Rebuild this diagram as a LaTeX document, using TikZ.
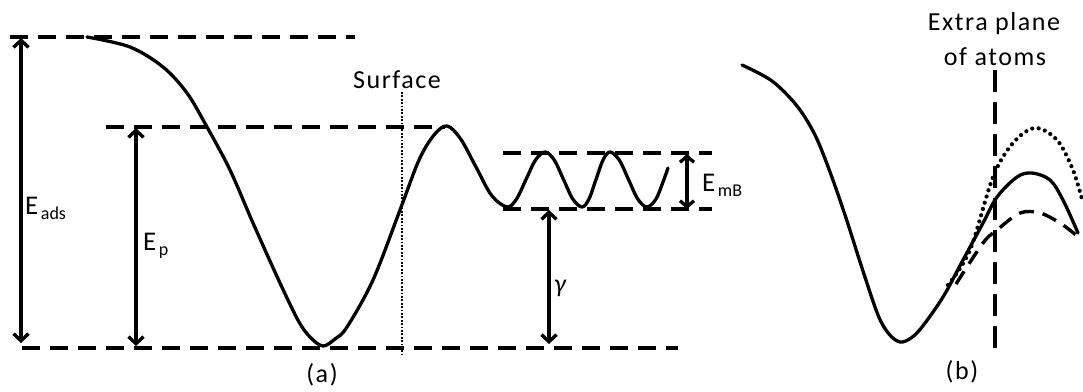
\documentclass[tikz,border=0pt]{standalone}
\usepackage{fontspec}
\setmainfont{Carlito}
\newfontfamily\lbl[LetterSpace=6]{Carlito}
\usetikzlibrary{arrows.meta}
\newcommand\Esub[1]{E\kern2.5pt\raisebox{-5pt}{\fontsize{18}{18}\selectfont #1}}
\begin{document}
\begin{tikzpicture}[x=1pt,y=-1pt,
  curve/.style={line width=3.3pt, line join=round, line cap=round},
  level/.style={line width=3.5pt, dash pattern=on 18pt off 10pt},
  dim/.style={line width=3.4pt, {Straight Barb[length=7pt,width=15pt]}-{Straight Barb[length=7pt,width=15pt]}},
  lab/.style={font=\lbl\fontsize{26}{26}\selectfont, inner sep=0pt},
  elab/.style={font=\fontsize{27}{27}\selectfont, inner sep=0pt, anchor=base west}]
\useasboundingbox (0,0) rectangle (1083,391);
% ---------- panel (a) ----------
\coordinate (topL) at (10,37);  \coordinate (topR) at (355,37);
\coordinate (epL) at (106,127); \coordinate (epR) at (445,127);
\coordinate (botL) at (22,348); \coordinate (botR) at (678,348);
\coordinate (mbTL) at (503,153); \coordinate (mbTR) at (712,153);
\coordinate (mbBL) at (503,209); \coordinate (mbBR) at (712,209);
\draw[level] (topL) -- (topR);
\draw[level] (epL) -- (epR);
\draw[level] (botL) -- (botR);
\draw[level] (mbTL) -- (mbTR);
\draw[level] (mbBL) -- (mbBR);
% surface
\coordinate (surfT) at (402,92); \coordinate (surfB) at (402,354);
\draw[line width=2.4pt, dash pattern=on 1.7pt off 1.7pt] (surfT) -- (surfB);
% dimension arrows
\coordinate (adsT) at (21,38);  \coordinate (adsB) at (21,343);
\coordinate (pT) at (136,128);  \coordinate (pB) at (136,346);
\coordinate (gT) at (549,210);  \coordinate (gB) at (549,344);
\coordinate (mT) at (687,154);  \coordinate (mB) at (687,209);
\draw[dim] (adsT) -- (adsB);
\draw[dim] (pT) -- (pB);
\draw[dim] (gT) -- (gB);
\draw[dim, {Straight Barb[length=6pt,width=14pt]}-{Straight Barb[length=6pt,width=14pt]}] (mT) -- (mB);
% potential curve (a)
\draw[curve] plot[smooth, tension=0.55] coordinates {
 (87,37) (130,47) (163,67) (187,93) (207,127) (230,170) (253,223) (280,283)
 (299,322) (311,338) (323,346) (335,339) (347,327) (373,280) (400,210) (419,160)
 (434,135) (447,126)
 (460.5,138.7) (476,167) (491.5,195.3) (507,207)
 (516.5,199) (526,179.5) (535.5,160) (545,152)
 (554.25,160) (563.5,179.5) (572.75,199) (582,207)
 (589,199) (596,179.5) (603,160) (610,152)
 (619.25,160) (628.5,179.5) (637.75,199) (647,207)
 (656,199) (663,182) (668,168)};
% labels (a)
\node[elab] (eads) at (25,214) {\Esub{ads}};
\node[elab] (ep) at (143,250) {\Esub{p}};
\node[elab] (emb) at (702,191) {\Esub{mB}};
\node[font=\fontsize{26}{26}\selectfont\itshape, inner sep=0pt] (gam) at (560,288) {γ};
\node[lab] (surf) at (397,80) {Surface};
\node[lab] (pa) at (322,375) {(a)};
% ---------- panel (b) ----------
\coordinate (plT) at (995,70); \coordinate (plB) at (995,357);
\draw[line width=3.4pt, dash pattern=on 22pt off 10pt] (plT) -- (plB);
\draw[curve] plot[smooth, tension=0.55] coordinates {
 (742,65) (772,81) (797,106) (815,135) (830,172) (846,218) (862,268)
 (878,315) (889,334) (900,342) (911,338) (922,327) (943,297) (963,260) (983,223) (997,197)
 (1017,177) (1032,173) (1050,180) (1063,200) (1078,233)};
\draw[line width=4.2pt, line cap=round, dash pattern=on 0pt off 6.5pt] plot[smooth, tension=0.55] coordinates {
 (948,285) (970,250) (993,177) (1013,143) (1035,128) (1057,140) (1073,170) (1083,203)};
\draw[line width=3.4pt, dash pattern=on 15pt off 9pt] plot[smooth, tension=0.55] coordinates {
 (956,284) (983,243) (997,230) (1020,213) (1040,213) (1060,223) (1076,235)};
\node[lab] (ex1) at (994,24) {Extra plane};
\node[lab] (ex2) at (995,57) {of atoms};
\node[lab] (pb) at (962,372) {(b)};
\end{tikzpicture}
\end{document}
